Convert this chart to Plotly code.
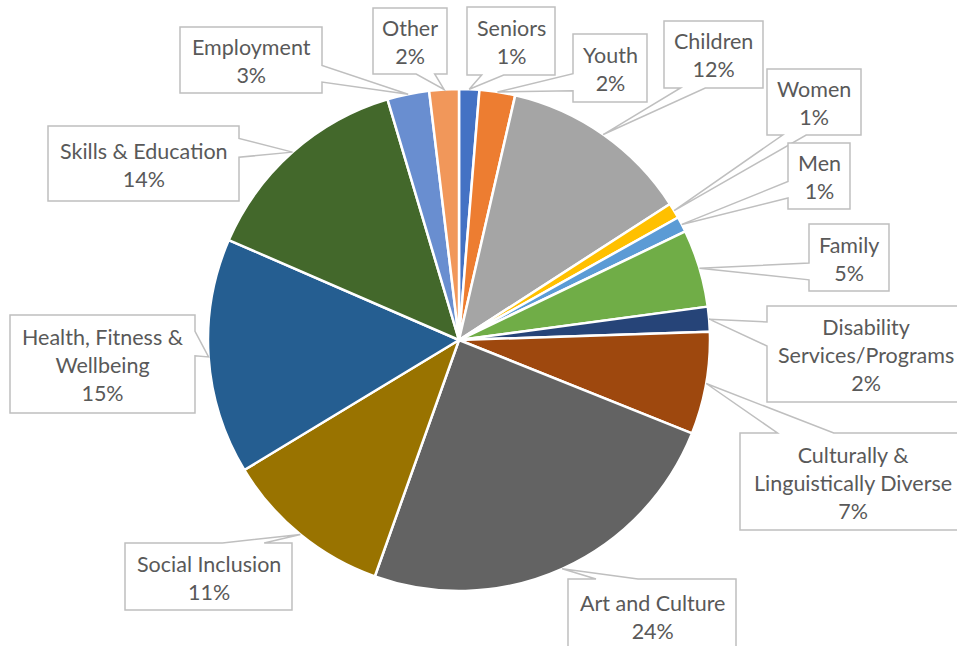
import math
import plotly.graph_objects as go

# ---- data ----
categories = ["Seniors", "Youth", "Children", "Women", "Men", "Family",
              "Disability Services/Programs", "Culturally & Linguistically Diverse",
              "Art and Culture", "Social Inclusion", "Health, Fitness & Wellbeing",
              "Skills & Education", "Employment", "Other"]
display_labels = ["Seniors", "Youth", "Children", "Women", "Men", "Family",
                  "Disability<br>Services/Programs", "Culturally &<br>Linguistically Diverse",
                  "Art and Culture", "Social Inclusion", "Health, Fitness &<br>Wellbeing",
                  "Skills & Education", "Employment", "Other"]
values = [1.3, 2.3, 12.3, 1.0, 1.0, 5.0, 1.6, 6.6, 24.4, 10.9, 15.2, 13.9, 2.7, 1.9]
colors = ["#4472C4", "#ED7D31", "#A5A5A5", "#FFC000", "#5B9BD5", "#70AD47",
          "#264478", "#9E480E", "#636363", "#997300", "#255E91", "#43682B",
          "#698ED0", "#F1975A"]

# ---- layout constants (pixels) ----
W, H = 957, 646
CX, CY, R = 459, 340, 251
# label boxes: left, top, right, bottom
boxes = [
    (467, 7, 555, 75),      # Seniors
    (573, 34, 647, 102),    # Youth
    (664, 21, 763, 88),     # Children
    (767, 69, 861, 135),    # Women
    (788, 143, 850, 209),   # Men
    (809, 224, 889, 291),   # Family
    (767, 306, 965, 402),   # Disability
    (740, 433, 965, 530),   # CALD
    (568, 579, 736, 660),   # Art and Culture
    (125, 543, 292, 610),   # Social Inclusion
    (10, 315, 195, 413),    # Health
    (48, 126, 239, 201),    # Skills
    (180, 27, 322, 93),     # Employment
    (373, 8, 447, 74),      # Other
]

def px(x):
    return x / W

def py(y):
    return 1 - y / H

fig = go.Figure(go.Pie(
    labels=categories, values=values, sort=False, direction="clockwise",
    rotation=0, textinfo="none", hole=0,
    marker=dict(colors=colors, line=dict(color="white", width=2.5)),
    domain=dict(x=[px(CX - R), px(CX + R)], y=[py(CY + R), py(CY - R)]),
    showlegend=False,
))

total = sum(values)
shapes = []
annotations = []
cum = 0.0
for i, v in enumerate(values):
    mid = (cum + v / 2) / total
    cum += v
    th = 2 * math.pi * mid
    tx, ty = CX + R * math.sin(th), CY - R * math.cos(th)
    l, t, r, b = boxes[i]
    w, h = r - l, b - t
    cx, cy = (l + r) / 2, (t + b) / 2
    dxp, dyp = tx - cx, ty - cy
    dq = dxp * h / w
    pts = [(l, t)]
    if abs(dyp) > abs(dq):
        g1, g2 = (7, 10) if dxp > 0 else (2, 5)
        x1, x2 = l + w * g1 / 12, l + w * g2 / 12
        if dyp < 0:  # top
            pts += [(x1, t), (tx, ty), (x2, t), (r, t), (r, b), (l, b)]
        else:        # bottom
            pts += [(r, t), (r, b), (x2, b), (tx, ty), (x1, b), (l, b)]
    else:
        g1, g2 = (7, 10) if dyp > 0 else (2, 5)
        y1, y2 = t + h * g1 / 12, t + h * g2 / 12
        if dxp > 0:  # right
            pts += [(r, t), (r, y1), (tx, ty), (r, y2), (r, b), (l, b)]
        else:        # left
            pts += [(r, t), (r, b), (l, b), (l, y2), (tx, ty), (l, y1)]
    path = "M " + " L ".join(f"{px(x):.5f},{py(y):.5f}" for x, y in pts) + " Z"
    shapes.append(dict(type="path", xref="paper", yref="paper", path=path,
                       fillcolor="white", line=dict(color="#BFBFBF", width=1.5),
                       layer="above"))
    pct = round(v / total * 100)
    annotations.append(dict(
        x=px(cx), y=py((t + min(b, 652)) / 2 + 1), xref="paper", yref="paper",
        text=f"{display_labels[i]}<br>{pct}%", showarrow=False,
        xanchor="center", yanchor="middle", align="center",
        font=dict(family="Lato, 'Open Sans', sans-serif", size=21.5, color="#595959"),
    ))

fig.update_layout(
    width=W, height=H, margin=dict(l=0, r=0, t=0, b=0),
    paper_bgcolor="white", plot_bgcolor="white",
    shapes=shapes, annotations=annotations,
)
fig.write_html("out.html", config={"displayModeBar": False},
               post_script="document.body.style.margin='0';document.body.style.overflow='hidden';")
